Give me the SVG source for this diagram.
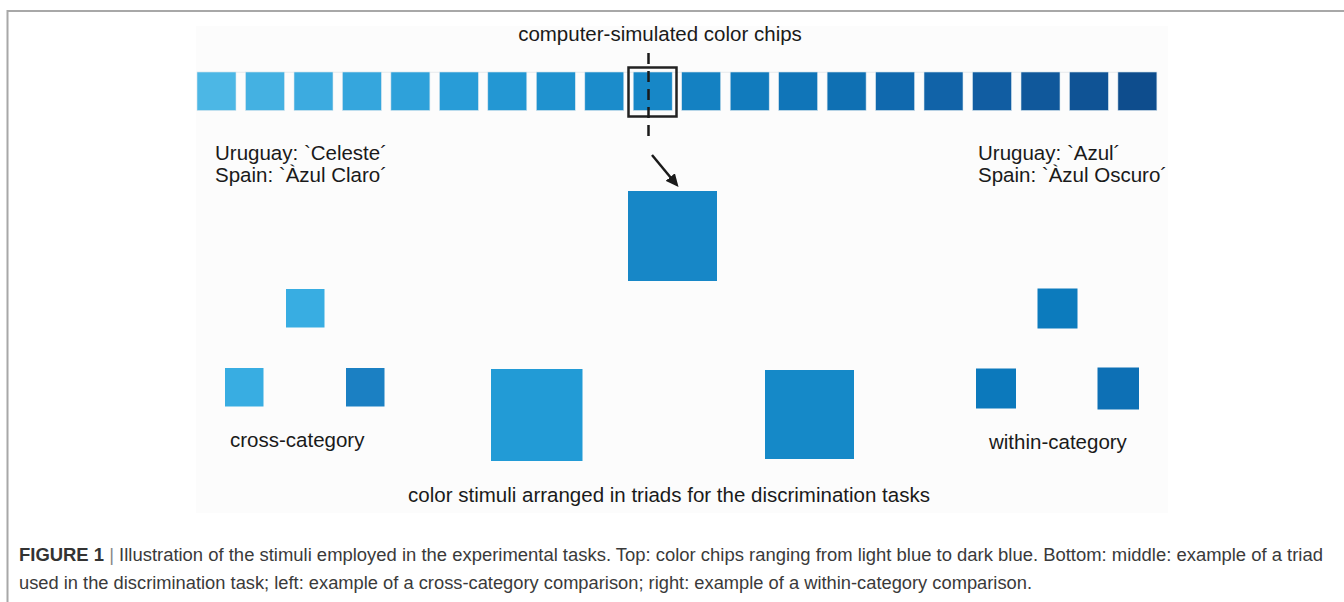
<svg xmlns="http://www.w3.org/2000/svg" width="1344" height="602" viewBox="0 0 1344 602">
<defs>
<style>
.lbl{font-family:"Liberation Sans",Arial,sans-serif;font-size:20.5px;fill:#1a1a1a}
.cap{font-family:"Liberation Sans",Arial,sans-serif;font-size:17.5px;fill:#3a3a3a}
.chip{stroke:#d8e6ef;stroke-width:0.6}
.sq{stroke:none}
</style>
<marker id="ah" markerWidth="13" markerHeight="12" refX="9" refY="6" orient="auto" markerUnits="userSpaceOnUse" viewBox="0 0 13 12">
<path d="M0,0 L13,6 L0,12 Z" fill="#1a1a1a"/>
</marker>
</defs>
<rect x="0" y="0" width="1344" height="602" fill="#ffffff"/>
<rect x="7.5" y="11" width="1400" height="700" fill="none" stroke="#a8a8a8" stroke-width="2"/>
<rect x="196" y="26" width="972" height="487" fill="#fcfcfc"/>
<g id="title"><text class="lbl" x="660" y="41" text-anchor="middle">computer-simulated color chips</text></g>
<g id="chips">
<line x1="197" y1="72.3" x2="1157" y2="72.3" stroke="#e2e6ea" stroke-width="0.8"/>
<rect class="chip" x="197" y="72" width="39" height="38.5" fill="#4cb7e5"/>
<rect class="chip" x="245.5" y="72" width="39" height="38.5" fill="#44b1e2"/>
<rect class="chip" x="294" y="72" width="39" height="38.5" fill="#3cabe0"/>
<rect class="chip" x="342.4" y="72" width="39" height="38.5" fill="#35a6dd"/>
<rect class="chip" x="390.9" y="72" width="39" height="38.5" fill="#2ea1da"/>
<rect class="chip" x="439.4" y="72" width="39" height="38.5" fill="#289cd7"/>
<rect class="chip" x="487.8" y="72" width="39" height="38.5" fill="#2397d3"/>
<rect class="chip" x="536.3" y="72" width="39" height="38.5" fill="#1f92cf"/>
<rect class="chip" x="584.8" y="72" width="39" height="38.5" fill="#1b8ccb"/>
<rect class="chip" x="633.2" y="72" width="39" height="38.5" fill="#1787c7"/>
<rect class="chip" x="681.7" y="72" width="39" height="38.5" fill="#1481c2"/>
<rect class="chip" x="730.2" y="72" width="39" height="38.5" fill="#117bbd"/>
<rect class="chip" x="778.6" y="72" width="39" height="38.5" fill="#1075b8"/>
<rect class="chip" x="827.1" y="72" width="39" height="38.5" fill="#0f70b3"/>
<rect class="chip" x="875.6" y="72" width="39" height="38.5" fill="#1069ae"/>
<rect class="chip" x="924" y="72" width="39" height="38.5" fill="#1163a8"/>
<rect class="chip" x="972.5" y="72" width="39" height="38.5" fill="#115da2"/>
<rect class="chip" x="1021" y="72" width="39" height="38.5" fill="#10589b"/>
<rect class="chip" x="1069.4" y="72" width="39" height="38.5" fill="#0f5395"/>
<rect class="chip" x="1117.9" y="72" width="39" height="38.5" fill="#0e4d8d"/>
<rect x="628.5" y="67.5" width="48" height="49" fill="none" stroke="#222" stroke-width="2.5"/>
</g>
<g id="label-left"><text class="lbl" x="215" y="159.5">Uruguay: `Celeste´</text><text class="lbl" x="215" y="181.8">Spain: `Àzul Claro´</text></g>
<g id="label-right"><text class="lbl" x="978" y="159.5">Uruguay: `Azul´</text><text class="lbl" x="978" y="181.8">Spain: `Àzul Oscuro´</text></g>
<g id="target"><rect class="sq" x="628" y="191" width="89" height="90" fill="#1787c7"/></g>
<g id="cross-category">
<rect class="sq" x="286" y="289" width="38.5" height="38.5" fill="#38ade2"/>
<rect class="sq" x="225" y="368" width="38.5" height="38.5" fill="#38ade2"/>
<rect class="sq" x="346" y="368" width="38.5" height="38.5" fill="#1b80c3"/>
<text class="lbl" x="230" y="447">cross-category</text>
</g>
<g id="triad-left"><rect class="sq" x="491" y="369" width="91.5" height="92" fill="#229bd6"/></g>
<g id="triad-right"><rect class="sq" x="765" y="370" width="89" height="89" fill="#1589c8"/></g>
<g id="within-category">
<rect class="sq" x="1037.5" y="288.5" width="40" height="40" fill="#0c7bbd"/>
<rect class="sq" x="976" y="368.5" width="40" height="40" fill="#0c79bc"/>
<rect class="sq" x="1097.5" y="367.5" width="41.5" height="42" fill="#0d70b5"/>
<text class="lbl" x="989" y="449">within-category</text>
</g>
<g id="bottom-label"><text class="lbl" x="669" y="502" text-anchor="middle">color stimuli arranged in triads for the discrimination tasks</text></g>
<g id="connectors">
<line x1="648.5" y1="53" x2="648.5" y2="138" stroke="#1a1a1a" stroke-width="2.5" stroke-dasharray="11 7"/>
<line x1="652" y1="155" x2="676" y2="184" stroke="#1a1a1a" stroke-width="2.5" marker-end="url(#ah)"/>
</g>
<g id="caption">
<text class="cap" x="19" y="561" textLength="1304" lengthAdjust="spacingAndGlyphs"><tspan font-weight="bold" fill="#333">FIGURE 1</tspan> <tspan fill="#888">|</tspan> Illustration of the stimuli employed in the experimental tasks. Top: color chips ranging from light blue to dark blue. Bottom: middle: example of a triad</text>
<text class="cap" x="19" y="589" textLength="1013" lengthAdjust="spacingAndGlyphs">used in the discrimination task; left: example of a cross-category comparison; right: example of a within-category comparison.</text>
</g>
</svg>
